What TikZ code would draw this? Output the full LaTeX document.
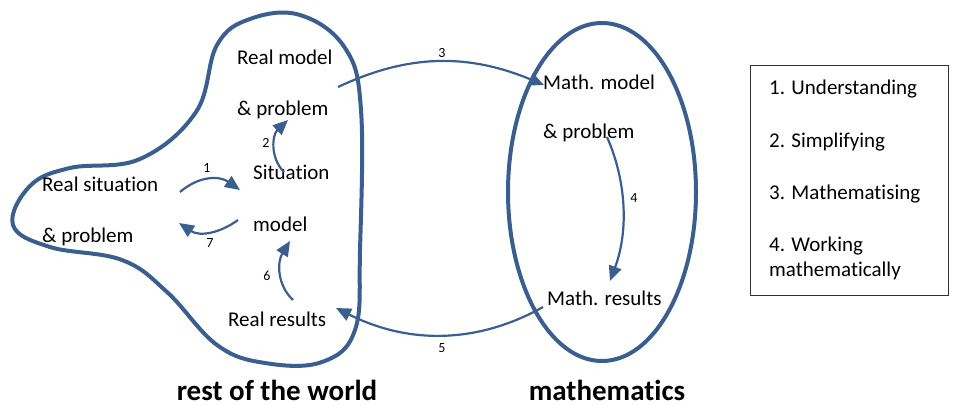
\documentclass[tikz,border=0pt]{standalone}
\usepackage{fontspec}
\setmainfont{Carlito}[Ligatures=NoCommon]
\usetikzlibrary{arrows.meta}
\definecolor{cblue}{HTML}{3A5F8F}
\begin{document}
\begin{tikzpicture}[x=1pt,y=-1pt,
  lbl/.style={anchor=west,inner sep=0pt,font=\fontsize{21}{24}\selectfont},
  num/.style={inner sep=0pt,font=\fontsize{14}{16}\selectfont},
  title/.style={inner sep=0pt,font=\fontsize{29}{32}\selectfont\bfseries},
  region/.style={draw=cblue,line width=4pt},
  conn/.style={draw=cblue,line width=2.2pt,-{Triangle[length=15pt,width=13pt]}}]
\useasboundingbox (0,0) rectangle (958,406);
% regions
\draw[region] plot[smooth cycle,tension=0.65] coordinates{
 (217,45) (250,19) (300,15) (345,48) (361,110) (360,250) (355,330)
 (322,362) (265,363) (217,345) (167,292) (122,260) (50,247) (13,225)
 (30,186) (70,168) (140,159) (196,112)};
\draw[region] (602,192) ellipse[x radius=94pt,y radius=169pt];
% labels
\node[lbl] (rm) at (237,57) {Real model};
\node[lbl] (rmp) at (237,110) {\& problem};
\node[lbl] (sit) at (253,172) {Situation};
\node[lbl] (mod) at (253,224) {model};
\node[lbl] (rr) at (228,319) {Real results};
\node[lbl] (rs) at (42,184) {Real situation};
\node[lbl] (rsp) at (42,237) {\& problem};
\node[lbl] (mm) at (543,82) {Math. model};
\node[lbl] (mmp) at (543,133) {\& problem};
\node[lbl] (mr) at (547,298) {Math. results};
\node[title] (tw) at (277,390) {rest of the world};
\node[title] (tm) at (607,390) {mathematics};
% legend
\node[draw=black!80,line width=0.8pt,minimum width=198pt,minimum height=230pt,inner sep=0pt] (leg) at (849,180) {};
\node[lbl] (l1) at (769,89) {1. Understanding};
\node[lbl] (l2) at (769,142) {2. Simplifying};
\node[lbl] (l3) at (769,194) {3. Mathematising};
\node[lbl] (l4) at (769,246) {4. Working};
\node[lbl] (l5) at (769,271) {mathematically};
% connector ends
\coordinate (a1s) at (180,192); \coordinate (a1e) at (240,190);
\coordinate (a7s) at (238,220); \coordinate (a7e) at (179,223);
\coordinate (a2s) at (284,172); \coordinate (a2e) at (288,120);
\coordinate (a6s) at (293,300); \coordinate (a6e) at (290,241);
\coordinate (a3s) at (338,87);  \coordinate (a3e) at (544,85);
\coordinate (a4s) at (607,137); \coordinate (a4e) at (610,281);
\coordinate (a5s) at (543,307); \coordinate (a5e) at (336,308);
% connectors
\draw[conn] (a1s) .. controls (200,175) and (220,176) .. (a1e);
\draw[conn] (a7s) .. controls (220,233) and (200,237) .. (a7e);
\draw[conn] (a2s) .. controls (270,158) and (272,135) .. (a2e);
\draw[conn] (a6s) .. controls (277,285) and (277,262) .. (a6e);
\draw[conn] (a3s) .. controls (400,58) and (460,50) .. (a3e);
\draw[conn] (a4s) .. controls (626,180) and (629,230) .. (a4e);
\draw[conn] (a5s) .. controls (490,337) and (420,350) .. (a5e);
% numbers
\node[num] (n1) at (207,168) {1};
\node[num] (n2) at (266,143) {2};
\node[num] (n3) at (442,53) {3};
\node[num] (n4) at (634,198) {4};
\node[num] (n5) at (442,348) {5};
\node[num] (n6) at (267,276) {6};
\node[num] (n7) at (210,243) {7};
\end{tikzpicture}
\end{document}
